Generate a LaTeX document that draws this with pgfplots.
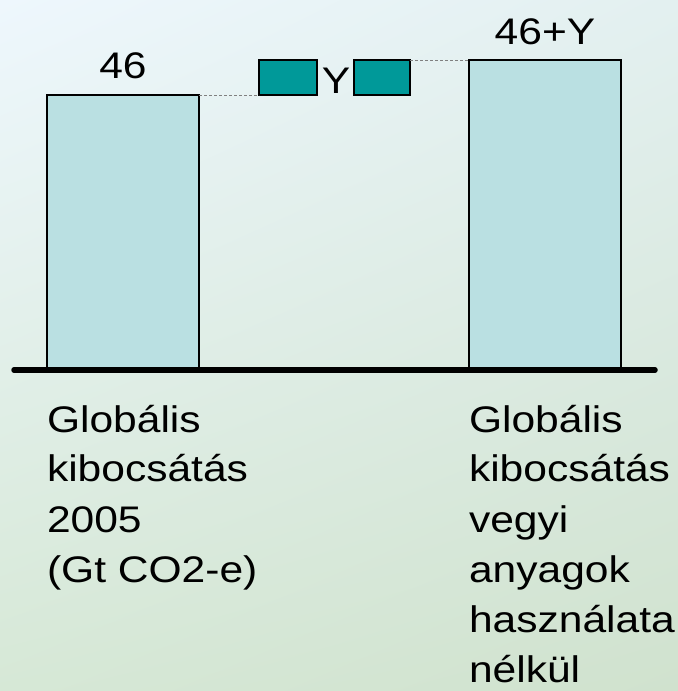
\documentclass[border=0pt]{standalone}
\usepackage{pgfplots}
\pgfplotsset{compat=1.18}
\usetikzlibrary{shadings}
\usepackage{fontspec}
\setmainfont{Liberation Sans}[FakeStretch=1.15]
\definecolor{bgTL}{HTML}{EEF7FD}
\definecolor{bgTR}{HTML}{E3F0F0}
\definecolor{bgBL}{HTML}{D6E8D6}
\definecolor{bgBR}{HTML}{D0E2CE}
\definecolor{barfill}{HTML}{BAE0E2}
\definecolor{tealbox}{HTML}{009999}
\tikzset{lbl/.style={font=\fontsize{37bp}{50bp}\selectfont, inner sep=0pt, outer sep=0pt}}
\begin{document}
\begin{tikzpicture}
\shade[upper left=bgTL, upper right=bgTR, lower left=bgBL, lower right=bgBR] (0,0) rectangle (678bp,691bp);
\begin{axis}[
  at={(0,0)}, anchor=south west,
  scale only axis, width=678bp, height=691bp,
  xmin=0, xmax=678, ymin=-53.69, ymax=61.89,
  axis lines=none, clip=false,
]
% bars
\addplot[draw=black, line width=1.3bp, fill=barfill] coordinates {(47,0) (199,0) (199,46) (47,46)} --cycle;
\addplot[draw=black, line width=1.3bp, fill=barfill] coordinates {(469,0) (621,0) (621,51.85) (469,51.85)} --cycle;
% Y increment boxes
\addplot[draw=black, line width=1.3bp, fill=tealbox] coordinates {(259,46) (317,46) (317,51.85) (259,51.85)} --cycle;
\addplot[draw=black, line width=1.3bp, fill=tealbox] coordinates {(354,46) (410,46) (410,51.85) (354,51.85)} --cycle;
% connectors
\addplot[gray, line width=0.8bp, dash pattern=on 3bp off 2bp] coordinates {(199,46) (259,46)};
\addplot[gray, line width=0.8bp, dash pattern=on 3bp off 2bp] coordinates {(410,51.85) (469,51.85)};
% baseline
\addplot[black, line width=5.5bp, line cap=round] coordinates {(14,0) (655,0)};
% labels
\node[lbl, anchor=base] at (axis cs:123,48.68) {46};
\node[lbl, anchor=base] at (axis cs:545,54.37) {46+Y};
\node[lbl, anchor=base] at (axis cs:336,46.3) {Y};
\node[lbl, anchor=base west] at (axis cs:47,-10.37) {Globális};
\node[lbl, anchor=base west] at (axis cs:47,-18.73) {kibocsátás};
\node[lbl, anchor=base west] at (axis cs:47,-27.10) {2005};
\node[lbl, anchor=base west] at (axis cs:47,-35.46) {(Gt CO2-e)};
\node[lbl, anchor=base west] at (axis cs:469,-10.37) {Globális};
\node[lbl, anchor=base west] at (axis cs:469,-18.73) {kibocsátás};
\node[lbl, anchor=base west] at (axis cs:469,-27.10) {vegyi};
\node[lbl, anchor=base west] at (axis cs:469,-35.46) {anyagok};
\node[lbl, anchor=base west] at (axis cs:469,-43.83) {használata};
\node[lbl, anchor=base west] at (axis cs:469,-52.19) {nélkül};
\end{axis}
\pgfresetboundingbox
\useasboundingbox (0,0) rectangle (678bp,691bp);
\end{tikzpicture}
\end{document}
